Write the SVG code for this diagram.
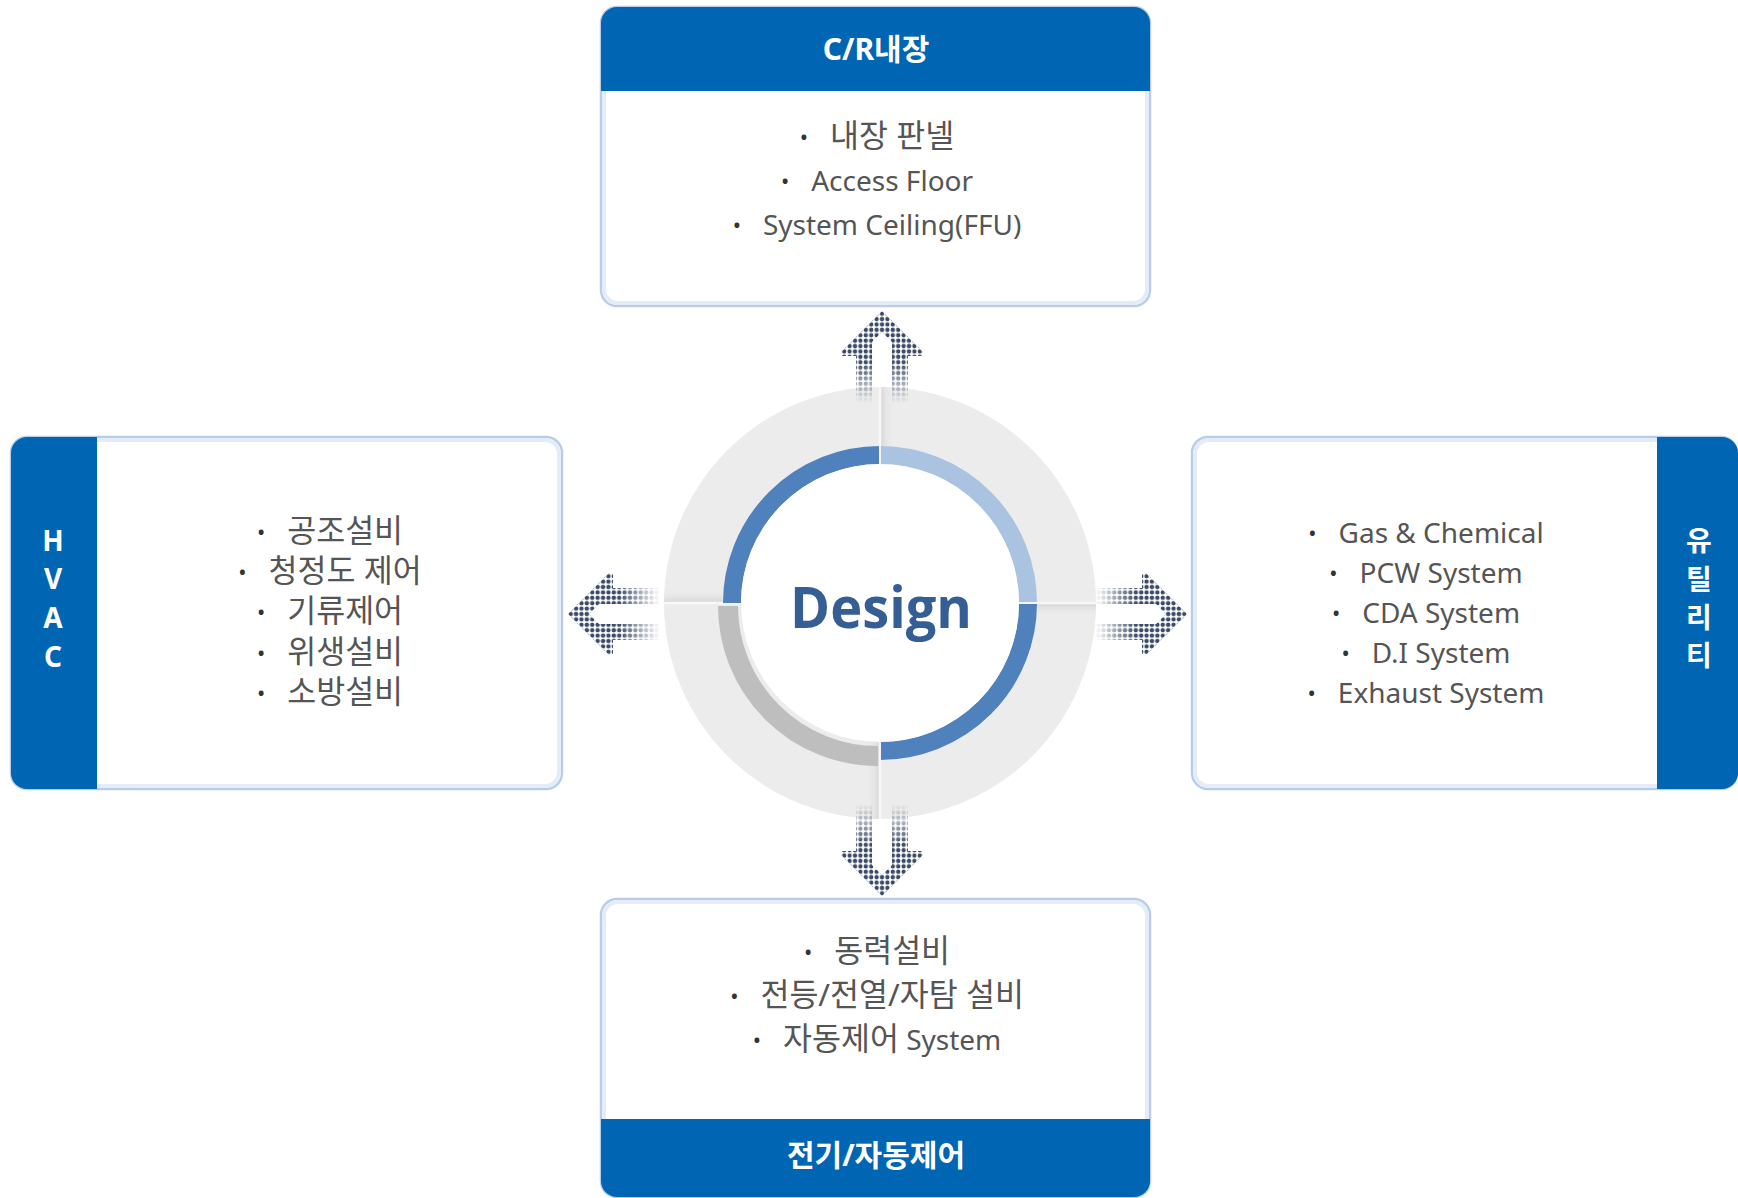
<svg xmlns="http://www.w3.org/2000/svg" xmlns:xlink="http://www.w3.org/1999/xlink" width="1738" height="1198" viewBox="0 0 1738 1198">
<style>
.box{fill:#ffffff;stroke:#b9cde8;stroke-width:2.5}
.glow{fill:none;stroke:#e3ecf8;stroke-width:4}
.band{fill:#0066b3}
.hd{font-family:"Noto Sans","Noto Sans CJK KR",sans-serif;font-weight:700;font-size:30px;fill:#ffffff;text-anchor:middle}
.vt{font-family:"Noto Sans","Noto Sans CJK KR",sans-serif;font-weight:700;font-size:28px;fill:#ffffff;text-anchor:middle}
.it{font-family:"Noto Sans","Noto Sans CJK KR",sans-serif;font-size:28px;fill:#555555;text-anchor:middle}
.ko{font-size:31.5px}
.bu{font-size:22px;fill:#333333}
.div{stroke:#f8f8f8;stroke-width:2.5}
</style>
<defs>
<pattern id="dots" patternUnits="userSpaceOnUse" width="5.4" height="5.4" x="2.7" y="0">
<circle cx="2.7" cy="2.7" r="2.2" fill="#3b4a66"/>
</pattern>
<linearGradient id="fadeg" gradientUnits="userSpaceOnUse" x1="0" y1="50" x2="0" y2="92">
<stop offset="0" stop-color="#ffffff"/>
<stop offset="1" stop-color="#000000"/>
</linearGradient>
<mask id="fade" maskUnits="userSpaceOnUse" x="-50" y="-5" width="100" height="105">
<rect x="-50" y="-5" width="100" height="105" fill="url(#fadeg)"/>
</mask>
<polygon id="arw" points="0,0 41,41 41,45 26,45 26,92 10,92 10,31 0,21 -10,31 -10,92 -26,92 -26,45 -41,45 -41,41"/>
<clipPath id="outerclip"><circle cx="880" cy="603" r="216"/></clipPath>
<linearGradient id="shTL" x1="0" y1="0" x2="0" y2="1"><stop offset="0" stop-color="#ececec" stop-opacity="0"/><stop offset="1" stop-color="#d6d6d6"/></linearGradient>
<linearGradient id="shTR" x1="0" y1="0" x2="1" y2="0"><stop offset="0" stop-color="#d6d6d6"/><stop offset="1" stop-color="#ececec" stop-opacity="0"/></linearGradient>
<linearGradient id="shBR" x1="0" y1="0" x2="0" y2="1"><stop offset="0" stop-color="#d6d6d6"/><stop offset="1" stop-color="#ececec" stop-opacity="0"/></linearGradient>
<linearGradient id="shBL" x1="0" y1="0" x2="1" y2="0"><stop offset="0" stop-color="#ececec" stop-opacity="0"/><stop offset="1" stop-color="#d6d6d6"/></linearGradient>
</defs>
<rect width="1738" height="1198" fill="#ffffff"/>

<g id="hub">
<circle cx="880" cy="603" r="216" fill="#ececec"/>
<g clip-path="url(#outerclip)">
<rect x="662" y="589" width="218" height="14" fill="url(#shTL)"/>
<rect x="880" y="387" width="14" height="216" fill="url(#shTR)"/>
<rect x="880" y="603" width="218" height="14" fill="url(#shBR)"/>
<rect x="866" y="603" width="14" height="216" fill="url(#shBL)"/>
<line class="div" x1="660" y1="603" x2="1100" y2="603"/>
<line class="div" x1="880" y1="385" x2="880" y2="821"/>
</g>
<path d="M878 756 A150 150 0 0 1 728 606" fill="none" stroke="#bebebe" stroke-width="20"/>
<path d="M732 603 A148 148 0 0 1 880 455" fill="none" stroke="#4f81bd" stroke-width="18"/>
<path d="M880 455 A148 148 0 0 1 1028 603" fill="none" stroke="#a9c3e1" stroke-width="18"/>
<path d="M1028 603 A148 148 0 0 1 880 751" fill="none" stroke="#4f81bd" stroke-width="18"/>
<line x1="720" y1="604" x2="742" y2="604" stroke="#f4f4f4" stroke-width="2"/>
<line x1="880" y1="445" x2="880" y2="465" stroke="#f4f4f4" stroke-width="2"/>
<line x1="1018" y1="603" x2="1040" y2="603" stroke="#f4f4f4" stroke-width="2"/>
<line x1="880" y1="741" x2="880" y2="762" stroke="#f4f4f4" stroke-width="2"/>
<circle cx="880" cy="603" r="139" fill="#ffffff"/>
<text x="881" y="628" font-family="'Open Sans','Noto Sans',sans-serif" font-weight="700" font-size="57" fill="#355f94" text-anchor="middle" textLength="182" lengthAdjust="spacingAndGlyphs">Design</text>
</g>

<g id="connectors">
<use href="#arw" fill="url(#dots)" mask="url(#fade)" transform="translate(882,311)"/>
<use href="#arw" fill="url(#dots)" mask="url(#fade)" transform="translate(882,896) rotate(180)"/>
<use href="#arw" fill="url(#dots)" mask="url(#fade)" transform="translate(568,614) rotate(-90)"/>
<use href="#arw" fill="url(#dots)" mask="url(#fade)" transform="translate(1187,614) rotate(90)"/>
</g>

<g id="node-cr">
<rect class="box" x="601" y="7" width="549" height="299" rx="16"/>
<rect class="glow" x="604" y="10" width="543" height="293" rx="14"/>
<path class="band" d="M601 91 V23 A16 16 0 0 1 617 7 H1134 A16 16 0 0 1 1150 23 V91 Z"/>
<text class="hd" x="876" y="60">C/R내장</text>
<text class="it" x="877" y="147"><tspan class="bu" dy="-2">•</tspan><tspan class="ko" dx="22" dy="2">내장 판넬</tspan></text>
<text class="it" x="877" y="191"><tspan class="bu" dy="-2">•</tspan><tspan dx="22" dy="2">Access Floor</tspan></text>
<text class="it" x="877" y="235"><tspan class="bu" dy="-2">•</tspan><tspan dx="22" dy="2">System Ceiling(FFU)</tspan></text>
</g>

<g id="node-hvac">
<rect class="box" x="11" y="437" width="551" height="352" rx="16"/>
<rect class="glow" x="14" y="440" width="545" height="346" rx="14"/>
<path class="band" d="M97 437 V789 H27 A16 16 0 0 1 11 773 V453 A16 16 0 0 1 27 437 Z"/>
<text class="vt" x="53" y="551">H</text>
<text class="vt" x="53" y="589">V</text>
<text class="vt" x="53" y="628">A</text>
<text class="vt" x="53" y="667">C</text>
<text class="it" x="330" y="542"><tspan class="bu" dy="-2">•</tspan><tspan class="ko" dx="22" dy="2">공조설비</tspan></text>
<text class="it" x="330" y="582"><tspan class="bu" dy="-2">•</tspan><tspan class="ko" dx="22" dy="2">청정도 제어</tspan></text>
<text class="it" x="330" y="622"><tspan class="bu" dy="-2">•</tspan><tspan class="ko" dx="22" dy="2">기류제어</tspan></text>
<text class="it" x="330" y="663"><tspan class="bu" dy="-2">•</tspan><tspan class="ko" dx="22" dy="2">위생설비</tspan></text>
<text class="it" x="330" y="703"><tspan class="bu" dy="-2">•</tspan><tspan class="ko" dx="22" dy="2">소방설비</tspan></text>
</g>

<g id="node-utility">
<rect class="box" x="1192" y="437" width="545" height="352" rx="16"/>
<rect class="glow" x="1195" y="440" width="539" height="346" rx="14"/>
<path class="band" d="M1657 437 H1722 A16 16 0 0 1 1738 453 V773 A16 16 0 0 1 1722 789 H1657 Z"/>
<text class="vt" x="1699" y="551">유</text>
<text class="vt" x="1699" y="590">틸</text>
<text class="vt" x="1699" y="628">리</text>
<text class="vt" x="1699" y="666">티</text>
<text class="it" x="1426" y="543"><tspan class="bu" dy="-2">•</tspan><tspan dx="22" dy="2">Gas &amp; Chemical</tspan></text>
<text class="it" x="1426" y="583"><tspan class="bu" dy="-2">•</tspan><tspan dx="22" dy="2">PCW System</tspan></text>
<text class="it" x="1426" y="623"><tspan class="bu" dy="-2">•</tspan><tspan dx="22" dy="2">CDA System</tspan></text>
<text class="it" x="1426" y="663"><tspan class="bu" dy="-2">•</tspan><tspan dx="22" dy="2">D.I System</tspan></text>
<text class="it" x="1426" y="703"><tspan class="bu" dy="-2">•</tspan><tspan dx="22" dy="2">Exhaust System</tspan></text>
</g>

<g id="node-elec">
<rect class="box" x="601" y="899" width="549" height="298" rx="16"/>
<rect class="glow" x="604" y="902" width="543" height="292" rx="14"/>
<path class="band" d="M601 1119 H1150 V1181 A16 16 0 0 1 1134 1197 H617 A16 16 0 0 1 601 1181 Z"/>
<text class="hd" x="876" y="1166">전기/자동제어</text>
<text class="it" x="877" y="962"><tspan class="bu" dy="-2">•</tspan><tspan class="ko" dx="22" dy="2">동력설비</tspan></text>
<text class="it" x="877" y="1006"><tspan class="bu" dy="-2">•</tspan><tspan class="ko" dx="22" dy="2">전등/전열/자탐 설비</tspan></text>
<text class="it" x="877" y="1050"><tspan class="bu" dy="-2">•</tspan><tspan class="ko" dx="22" dy="2">자동제어</tspan><tspan> System</tspan></text>
</g>
</svg>
